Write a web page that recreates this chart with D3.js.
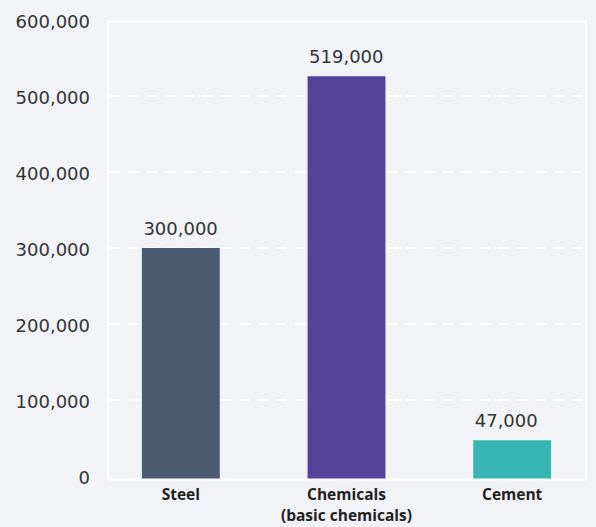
<!DOCTYPE html>
<html>
<head>
<meta charset="utf-8">
<script src="https://cdn.jsdelivr.net/npm/d3@7"></script>
<style>
  body { margin: 0; background: #f2f3f7; }
  svg { display: block; }
  .tick text { font-family: "DejaVu Sans", sans-serif; font-size: 18px; fill: #333; }
  .val { font-family: "DejaVu Sans", sans-serif; font-size: 18px; fill: #333; }
  .cat { font-family: "Open Sans", sans-serif; font-size: 15.5px; font-weight: 700; fill: #222; }
</style>
</head>
<body>
<div id="chart"></div>
<script>
// data
var categories = ["Steel", "Chemicals", "Cement"];
var categoryLines = [["Steel"], ["Chemicals", "(basic chemicals)"], ["Cement"]];
var values = [300000, 526000, 47000];          // bar heights as drawn
var valueLabels = ["300,000", "519,000", "47,000"]; // labels printed above bars
var barColors = ["#4a5a6f", "#54439a", "#36b5b3"];
var yTicks = [0, 100000, 200000, 300000, 400000, 500000, 600000];

var width = 596,
    height = 527,
    frame = {left: 108, top: 21.5, right: 586, bottom: 479.5};

var svg = d3.select("#chart").append("svg")
    .attr("width", width)
    .attr("height", height);

var xScale = d3.scaleBand()
    .domain(categories)
    .range([98, 595])
    .paddingInner(0.53)
    .paddingOuter(0.265);

var yScale = d3.scaleLinear()
    .domain([0, 600000])
    .range([476, 20]);

// plot frame
svg.append("rect")
    .attr("x", frame.left)
    .attr("y", frame.top)
    .attr("width", frame.right - frame.left)
    .attr("height", frame.bottom - frame.top)
    .attr("fill", "none")
    .attr("stroke", "#ffffff")
    .attr("stroke-width", 2);

// dashed gridlines
svg.append("g").selectAll("line")
    .data(yTicks.filter(function(d) { return d > 0 && d < 600000; }))
  .enter().append("line")
    .attr("x1", frame.left + 2)
    .attr("x2", frame.right - 1)
    .attr("y1", function(d) { return yScale(d); })
    .attr("y2", function(d) { return yScale(d); })
    .attr("stroke", "#ffffff")
    .attr("stroke-width", 2)
    .attr("stroke-dasharray", "10,8.5");

// y axis labels
var yAxis = svg.append("g")
    .attr("transform", "translate(90,0)")
    .call(d3.axisLeft(yScale)
      .tickValues(yTicks)
      .tickSize(0)
      .tickPadding(0)
      .tickFormat(d3.format(",")));
yAxis.select(".domain").remove();
yAxis.selectAll(".tick text").attr("dy", "0.4em");

// bars
svg.append("g").selectAll("rect")
    .data(values)
  .enter().append("rect")
    .attr("x", function(d, i) { return xScale(categories[i]); })
    .attr("y", function(d) { return yScale(d); })
    .attr("width", xScale.bandwidth())
    .attr("height", function(d) { return frame.bottom - 1 - yScale(d); })
    .attr("fill", function(d, i) { return barColors[i]; });

// value labels
svg.append("g").selectAll("text")
    .data(values)
  .enter().append("text")
    .attr("class", "val")
    .attr("x", function(d, i) { return xScale(categories[i]) + 1.5; })
    .attr("y", function(d) { return yScale(d) - 13; })
    .text(function(d, i) { return valueLabels[i]; });

// category labels
var cats = svg.append("g").selectAll("text")
    .data(categoryLines)
  .enter().append("text")
    .attr("class", "cat")
    .attr("text-anchor", "middle")
    .attr("x", function(d, i) { return xScale(categories[i]) + xScale.bandwidth() / 2; })
    .attr("y", 500);

cats.selectAll("tspan")
    .data(function(d) { return d; })
  .enter().append("tspan")
    .attr("x", function() { return d3.select(this.parentNode).attr("x"); })
    .attr("dy", function(d, i) { return i === 0 ? 0 : 21; })
    .text(function(d) { return d; });
</script>
</body>
</html>
